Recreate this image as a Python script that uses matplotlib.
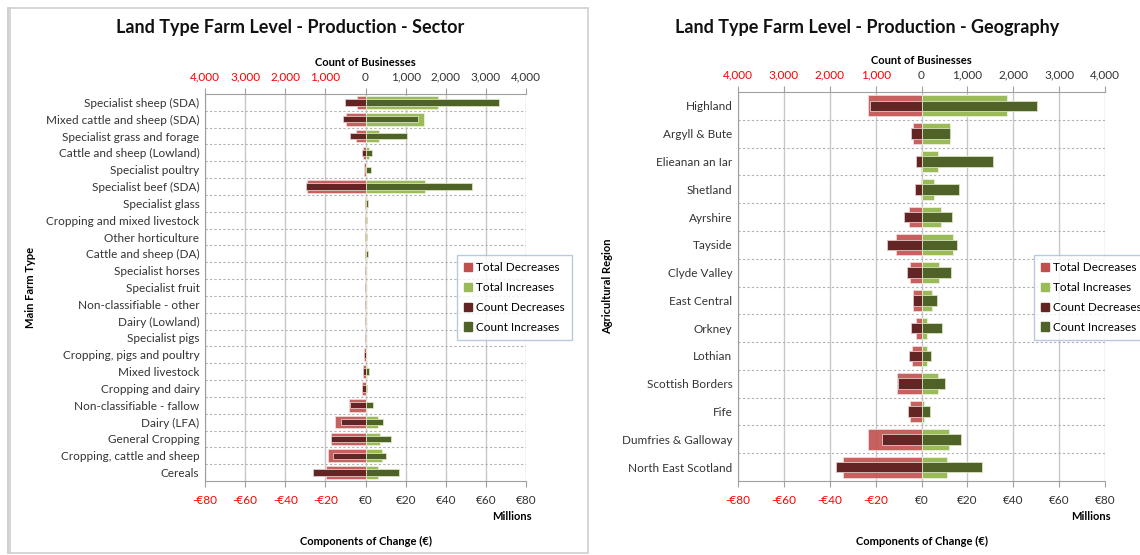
import matplotlib.pyplot as plt
import numpy as np
from matplotlib.patches import Patch, Rectangle
from matplotlib.ticker import FuncFormatter

plt.rcParams["font.family"] = ["Lato", "DejaVu Sans"]

# Sector panel data (totals in € millions, counts in businesses)
sectors = [
    "Specialist sheep (SDA)", "Mixed cattle and sheep (SDA)", "Specialist grass and forage",
    "Cattle and sheep (Lowland)", "Specialist poultry", "Specialist beef (SDA)",
    "Specialist glass", "Cropping and mixed livestock", "Other horticulture",
    "Cattle and sheep (DA)", "Specialist horses", "Specialist fruit",
    "Non-classifiable - other", "Dairy (Lowland)", "Specialist pigs",
    "Cropping, pigs and poultry", "Mixed livestock", "Cropping and dairy",
    "Non-classifiable - fallow", "Dairy (LFA)", "General Cropping",
    "Cropping, cattle and sheep", "Cereals",
]
sector_total_dec = [4.0, 9.6, 4.8, 1.0, 0.7, 29.2, 0.1, 0.1, 0.1, 0.2, 0.2, 0.2,
                    0.2, 0.2, 0.2, 0.6, 1.2, 1.8, 8.3, 15.1, 17.4, 18.9, 19.8]
sector_total_inc = [35.9, 29.2, 6.5, 1.5, 0.2, 29.9, 0.5, 0.3, 0.3, 0.6, 0.0, 0.0,
                    0.0, 0.0, 0.0, 0.2, 0.5, 0.3, 0.3, 6.0, 7.3, 8.3, 6.0]
sector_count_dec = [520, 550, 390, 83, 20, 1495, 5, 5, 5, 5, 10, 10,
                    10, 10, 10, 33, 58, 75, 390, 606, 855, 822, 1312]
sector_count_inc = [3330, 1320, 1030, 158, 141, 2650, 50, 25, 25, 58, 0, 0,
                    0, 0, 10, 10, 83, 25, 175, 440, 640, 515, 847]

# Geography panel data
regions = [
    "Highland", "Argyll & Bute", "Elieanan an Iar", "Shetland", "Ayrshire", "Tayside",
    "Clyde Valley", "East Central", "Orkney", "Lothian", "Scottish Borders", "Fife",
    "Dumfries & Galloway", "North East Scotland",
]
region_total_dec = [23.2, 3.6, 0.3, 0.2, 5.4, 10.9, 5.2, 3.8, 2.3, 4.2, 10.6, 5.0, 23.4, 34.2]
region_total_inc = [37.1, 12.4, 7.3, 5.4, 8.3, 13.7, 7.7, 4.7, 2.6, 2.3, 7.0, 1.2, 12.1, 11.1]
region_count_dec = [1114, 233, 117, 131, 386, 750, 313, 182, 233, 277, 510, 291, 852, 1857]
region_count_inc = [2520, 626, 1551, 823, 663, 779, 634, 342, 437, 197, 517, 182, 859, 1318]

c_tdec = "#C0504D"
c_tinc = "#9BBB59"
c_cdec = "#632523"
c_cinc = "#4F6228"
grid_c = "#C8C8C8"
red_txt = "#FF0000"

W, H = 1140, 555
fig = plt.figure(figsize=(W / 100, H / 100), dpi=100)


def fx(px):
    return px / W


def fy(py):
    return 1 - py / H


def draw_panel(left, right, top, bottom, cats, tdec, tinc, cdec, cinc, title, ylab,
               panel, title_x, ylab_x, legend_xy):
    # panel border
    fig.add_artist(Rectangle((fx(panel[0]), fy(panel[3])), fx(panel[1] - panel[0]),
                             (panel[3] - panel[1]) / H, transform=fig.transFigure,
                             fill=False, edgecolor="#D0D0D0", linewidth=1.2))

    ax = fig.add_axes([fx(left), fy(bottom), fx(right - left), (bottom - top) / H])
    y = np.arange(len(cats))
    ax.barh(y, -np.array(tdec), height=0.75, color=c_tdec, alpha=0.9,
            edgecolor="#F2DCDB", linewidth=0.6, zorder=2)
    ax.barh(y, tinc, height=0.75, color=c_tinc, edgecolor="#EBF1DE",
            linewidth=0.6, zorder=2)
    ax.set_xlim(-80, 80)
    ax.set_ylim(len(cats) - 0.5, -0.5)
    ax.set_yticks(y)
    ax.set_yticklabels(cats, fontsize=8.5, color="#333333")
    ax.tick_params(axis="y", length=0, pad=4)
    ax.set_xticks(np.arange(-80, 81, 20))
    ax.xaxis.set_major_formatter(FuncFormatter(
        lambda v, p: ("-€%d" % abs(v)) if v < 0 else "€%d" % v))
    ax.tick_params(axis="x", labelsize=8.5, length=4, color="#A0A0A0", pad=6)
    for lab, v in zip(ax.get_xticklabels(), np.arange(-80, 81, 20)):
        lab.set_color(red_txt if v < 0 else "#333333")
    for v in np.arange(-80, 81, 20):
        ax.axvline(v, color=grid_c, linewidth=1, zorder=0)
    for b in np.arange(0.5, len(cats) - 1, 1):
        ax.axhline(b, color="#B0B0B0", linewidth=0.8, linestyle=(0, (2, 2)), zorder=0)
    for s in ["top", "right"]:
        ax.spines[s].set_visible(False)
    ax.spines["left"].set_color("#A0A0A0")
    ax.spines["bottom"].set_color("#A0A0A0")

    ax2 = ax.twiny()
    ax2.barh(y, -np.array(cdec), height=0.38, color=c_cdec, edgecolor="#E0C8C8",
             linewidth=0.6, zorder=3)
    ax2.barh(y, cinc, height=0.38, color=c_cinc, edgecolor="#D8E4BC",
             linewidth=0.6, zorder=3)
    ax2.set_xlim(-4000, 4000)
    ax2.set_xticks(np.arange(-4000, 4001, 1000))
    ax2.xaxis.set_major_formatter(FuncFormatter(lambda v, p: "{:,}".format(int(abs(v)))))
    ax2.tick_params(axis="x", labelsize=8.5, length=4, color="#A0A0A0", pad=4)
    for lab, v in zip(ax2.get_xticklabels(), np.arange(-4000, 4001, 1000)):
        lab.set_color(red_txt if v < 0 else "#333333")
    for s in ["left", "right", "bottom"]:
        ax2.spines[s].set_visible(False)
    ax2.spines["top"].set_color("#A0A0A0")
    ax2.set_xlabel("Count of Businesses", fontsize=8, fontweight="bold", labelpad=4)

    cx = (left + right) / 2
    fig.text(fx(title_x), fy(27), title, fontsize=13, fontweight="bold",
             ha="center", va="center", color="#111111")
    fig.text(fx(right - 14), fy(517), "Millions", fontsize=8, fontweight="bold",
             ha="center", va="center")
    fig.text(fx(cx), fy(541), "Components of Change (€)", fontsize=8,
             fontweight="bold", ha="center", va="center")
    fig.text(fx(ylab_x), fy((top + bottom) / 2), ylab, fontsize=8, fontweight="bold",
             rotation=90, ha="center", va="center")

    handles = [Patch(color=c_tdec, label="Total Decreases"),
               Patch(color=c_tinc, label="Total Increases"),
               Patch(color=c_cdec, label="Count Decreases"),
               Patch(color=c_cinc, label="Count Increases")]
    leg = fig.legend(handles=handles, loc="upper left",
                     bbox_to_anchor=(fx(legend_xy[0]), fy(legend_xy[1])),
                     fontsize=8.5, frameon=True, fancybox=False,
                     handlelength=0.7, handleheight=0.7, handletextpad=0.3,
                     labelspacing=0.75, borderpad=0.6, borderaxespad=0)
    leg.get_frame().set_edgecolor("#A9BCD8")
    leg.get_frame().set_linewidth(1)


draw_panel(205, 526, 94, 481, sectors, sector_total_dec, sector_total_inc,
           sector_count_dec, sector_count_inc,
           "Land Type Farm Level - Production - Sector", "Main Farm Type",
           (10, 8, 568, 553), 290, 30, (457, 255))

draw_panel(738, 1105, 92, 481, regions, region_total_dec, region_total_inc,
           region_count_dec, region_count_inc,
           "Land Type Farm Level - Production - Geography", "Agricultural Region",
           (588, 8, 1138, 553), 867, 608, (1034, 255))

fig.savefig("out.png", dpi=100)
